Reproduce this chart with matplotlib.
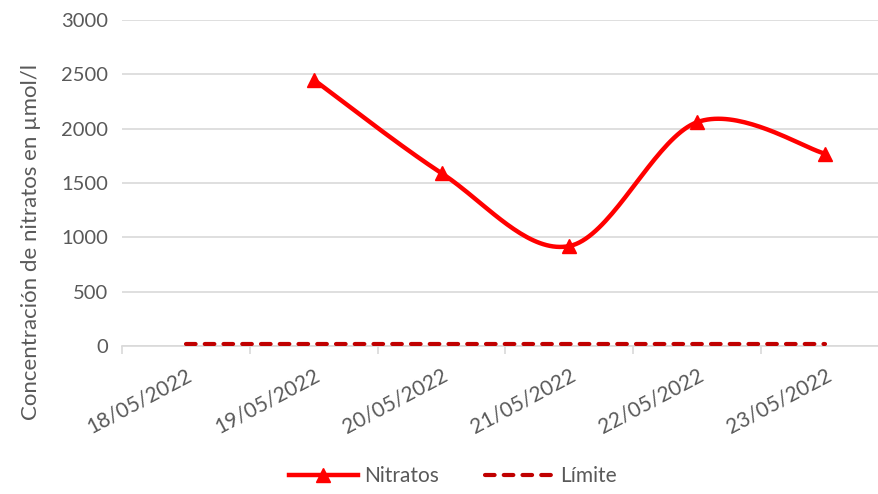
import numpy as np
import matplotlib
matplotlib.use("Agg")
import matplotlib.pyplot as plt
from matplotlib.lines import Line2D

categories = ["18/05/2022", "19/05/2022", "20/05/2022", "21/05/2022", "22/05/2022", "23/05/2022"]
nitratos = [np.nan, 2450, 1590, 920, 2060, 1770]
limite = [15, 15, 15, 15, 15, 15]
yticks = [0, 500, 1000, 1500, 2000, 2500, 3000]

TXT = "#595959"
GRID = "#d9d9d9"
plt.rcParams['font.family'] = ['Lato', 'DejaVu Sans']

def smooth(xs, ys, n=40):
    # Excel-like smoothed line (Catmull-Rom Bezier through points)
    pts = [(x, y) for x, y in zip(xs, ys) if not np.isnan(y)]
    P = np.array(pts, dtype=float)
    outx, outy = [], []
    for i in range(len(P) - 1):
        p0 = P[i - 1] if i > 0 else P[i]
        p1 = P[i]
        p2 = P[i + 1]
        p3 = P[i + 2] if i + 2 < len(P) else P[i + 1]
        c1 = p1 + (p2 - p0) / 6
        c2 = p2 - (p3 - p1) / 6
        t = np.linspace(0, 1, n)[:, None]
        b = ((1 - t) ** 3) * p1 + 3 * ((1 - t) ** 2) * t * c1 + 3 * (1 - t) * t ** 2 * c2 + t ** 3 * p2
        outx.extend(b[:, 0]); outy.extend(b[:, 1])
    return np.array(outx), np.array(outy)

fig = plt.figure(figsize=(8.79, 4.94), dpi=100)
ax = fig.add_axes([122 / 879, 1 - 346 / 494, 767 / 879, 326 / 494])

x = np.arange(len(categories))
ax.set_xlim(-0.5, len(categories) - 0.5)
ax.set_ylim(0, 3000)
ax.set_yticks(yticks)
ax.yaxis.grid(True, color=GRID, lw=1.2)
ax.set_axisbelow(True)
for s in ["top", "right", "left"]:
    ax.spines[s].set_visible(False)
ax.spines["bottom"].set_color(GRID)
ax.spines["bottom"].set_linewidth(1.2)
ax.tick_params(axis="y", length=0, labelsize=14.5, labelcolor=TXT, pad=10)

ax.set_xticks(np.arange(-0.5, len(categories) + 0.5, 1.0))
ax.set_xticklabels([])
ax.tick_params(axis="x", which="major", length=6, color=GRID, width=1.2)
ax.set_xticks(x, minor=True)
ax.set_xticklabels(categories, minor=True, rotation=28, ha="right", rotation_mode="anchor",
                   fontsize=15, color=TXT)
ax.tick_params(axis="x", which="minor", length=0, pad=14)

DASH = (0, (2.3, 2.2))
ax.plot(x, limite, color="#C00000", lw=3.0, ls=DASH, dash_capstyle="round", zorder=3)
sx, sy = smooth(x, nitratos)
ax.plot(sx, sy, color="#FF0000", lw=3.2, solid_capstyle="round", zorder=4)
ax.plot(x, nitratos, ls="none", marker="^", ms=10, color="#FF0000", zorder=5)

ax.set_ylabel("Concentración de nitratos en µmol/l", fontsize=16, color=TXT, labelpad=8)
ax.yaxis.set_label_coords(-0.105, 0.32)

handles = [Line2D([], [], color="#FF0000", lw=3.2, marker="^", ms=10),
           Line2D([], [], color="#C00000", lw=3.0, ls=DASH, dash_capstyle="round")]
fig.legend(handles, ["Nitratos", "Límite"], loc="center", bbox_to_anchor=(0.515, 1 - 476 / 494),
           ncol=2, frameon=False, fontsize=15, labelcolor=TXT, handlelength=3.3,
           columnspacing=2.2, handletextpad=0.3)

fig.savefig("out.png", dpi=100)
